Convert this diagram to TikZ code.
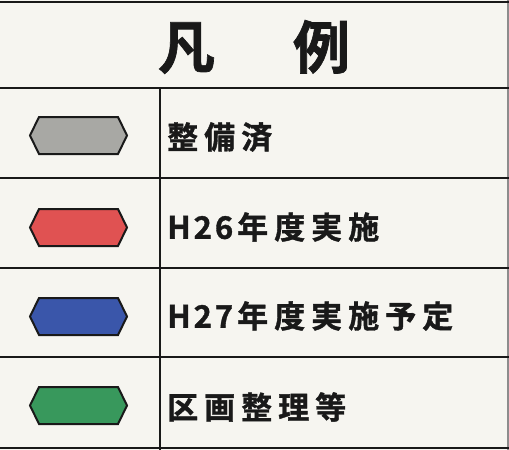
\documentclass[tikz,border=0pt]{standalone}
\usepackage{fontspec}
\newfontfamily\jp{Noto Sans CJK JP}[BoldFont={* Bold},BoldFeatures={FakeBold=1.2}]
\definecolor{paper}{RGB}{246,245,240}
\definecolor{ink}{RGB}{25,25,25}
\definecolor{hgray}{RGB}{168,168,164}
\definecolor{hred}{RGB}{224,82,82}
\definecolor{hblue}{RGB}{58,86,170}
\definecolor{hgreen}{RGB}{56,152,92}
\tikzset{
  rule/.style={draw=ink, line width=2pt},
  hexsw/.style={draw=ink, line width=2pt, line join=miter},
  lbl/.style={anchor=west, inner sep=0pt, font=\jp\bfseries\fontsize{31}{31}\selectfont, text=ink},
  ttl/.style={inner sep=0pt, font=\jp\bfseries\fontsize{57}{57}\selectfont, text=ink}
}
\newcommand{\hexat}[3]{% name, center y, colour
  \fill[#3] (30,#2) -- (39,#2-18.5) -- (118,#2-18.5) -- (127,#2) -- (118,#2+18.5) -- (39,#2+18.5) -- cycle;
  \draw[hexsw] (30,#2) -- (39,#2-18.5) -- (118,#2-18.5) -- (127,#2) -- (118,#2+18.5) -- (39,#2+18.5) -- cycle;
  \coordinate (#1) at (78.5,#2);
}
\begin{document}
\begin{tikzpicture}[x=1pt,y=-1pt]
\useasboundingbox (0,0) rectangle (509,450);
\fill[paper] (0,0) rectangle (509,450);
\fill[black!45] (507,0) rectangle (509,450);
% rules
\draw[rule] (0,2) -- (509,2);
\draw[rule] (0,88) -- (509,88);
\draw[rule] (0,178) -- (509,178);
\draw[rule] (0,268) -- (509,268);
\draw[rule] (0,357) -- (509,357);
\draw[rule] (0,448) -- (509,448);
\draw[rule] (160,88) -- (160,450);
% title
\node[ttl] (title) at (254,47) {凡\kern78pt 例};
% swatches
\hexat{s1}{135.5}{hgray}
\hexat{s2}{227.5}{hred}
\hexat{s3}{316.5}{hblue}
\hexat{s4}{405.5}{hgreen}
% labels
\node[lbl] (l1) at (167,137) {整\kern6pt 備\kern6pt 済};
\node[lbl] (l2) at (167,227) {H\kern3pt 2\kern3pt 6\kern4pt 年\kern6pt 度\kern6pt 実\kern6pt 施};
\node[lbl] (l3) at (167,316) {H\kern3pt 2\kern3pt 7\kern4pt 年\kern6pt 度\kern6pt 実\kern6pt 施\kern6pt 予\kern6pt 定};
\node[lbl] (l4) at (167,407) {区\kern6pt 画\kern6pt 整\kern6pt 理\kern6pt 等};
\end{tikzpicture}
\end{document}
